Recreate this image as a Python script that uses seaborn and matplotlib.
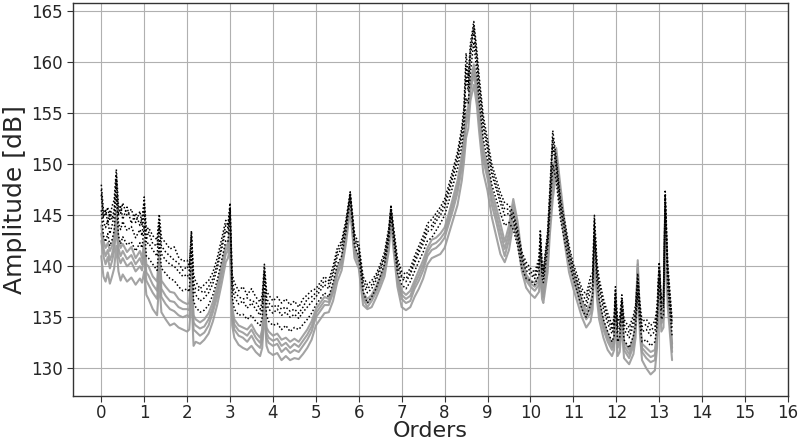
import matplotlib
matplotlib.use("Agg")
import matplotlib.pyplot as plt
import seaborn as sns
import pandas as pd

# ---- data ----
orders = [
    0.0, 0.05, 0.1, 0.15, 0.2, 0.25, 0.3, 0.35, 0.4, 0.45, 0.5, 0.6, 0.7, 0.8, 0.9, 0.95,
    1.0, 1.05, 1.1, 1.2, 1.3, 1.35, 1.4, 1.5, 1.6, 1.7, 1.8, 1.9,
    2.0, 2.05, 2.1, 2.15, 2.2, 2.3, 2.4, 2.5, 2.6, 2.7, 2.8, 2.9, 2.95,
    3.0, 3.05, 3.1, 3.2, 3.3, 3.4, 3.5, 3.6, 3.7, 3.75, 3.8, 3.85, 3.9,
    4.0, 4.1, 4.2, 4.3, 4.4, 4.5, 4.6, 4.7, 4.8, 4.9,
    5.0, 5.1, 5.2, 5.3, 5.4, 5.5, 5.6, 5.7, 5.8, 5.9,
    6.0, 6.1, 6.2, 6.3, 6.4, 6.5, 6.6, 6.7, 6.75, 6.8, 6.9,
    7.0, 7.1, 7.2, 7.3, 7.4, 7.5, 7.6, 7.7, 7.8, 7.9,
    8.0, 8.1, 8.2, 8.3, 8.4, 8.45, 8.5, 8.55, 8.6, 8.68, 8.75, 8.8, 8.9,
    9.0, 9.1, 9.2, 9.3, 9.4, 9.5, 9.6, 9.7, 9.8, 9.9,
    10.0, 10.1, 10.2, 10.23, 10.27, 10.3, 10.4, 10.45, 10.52, 10.6, 10.7, 10.8, 10.9,
    11.0, 11.1, 11.2, 11.3, 11.4, 11.45, 11.49, 11.55, 11.6, 11.7, 11.8, 11.9, 11.95,
    11.98, 12.03, 12.08, 12.13, 12.18, 12.3, 12.4, 12.45, 12.5, 12.55, 12.6, 12.7, 12.8, 12.9, 12.95,
    13.0, 13.05, 13.1, 13.14, 13.2, 13.3,
]

# black dotted runs
run_b1 = [
    148.0, 145.5, 145.0, 145.8, 144.6, 145.9, 146.5, 149.5, 146.0, 145.2, 146.2, 145.0, 145.6, 144.3, 145.4, 144.0,
    146.8, 143.5, 143.8, 143.0, 142.6, 145.1, 142.8, 142.3, 141.7, 141.9, 140.9, 140.5,
    140.6, 140.0, 143.5, 139.2, 138.5, 137.8, 138.2, 138.6, 139.4, 140.8, 142.6, 144.5, 144.0,
    146.2, 139.2, 138.4, 137.6, 138.0, 137.2, 137.8, 137.0, 136.5, 137.2, 140.2, 137.6, 137.2,
    136.6, 137.0, 136.4, 136.8, 136.2, 136.6, 136.0, 136.8, 137.2, 137.6,
    137.8, 138.4, 139.0, 138.6, 140.0, 141.8, 142.5, 144.5, 147.3, 143.2,
    142.2, 139.0, 138.2, 138.6, 139.2, 140.2, 141.4, 143.8, 145.9, 144.2, 140.8,
    139.5, 139.2, 139.8, 141.0, 142.0, 143.0, 144.2, 144.6, 145.2, 145.8,
    146.6, 148.0, 149.6, 151.2, 153.6, 155.6, 160.9, 158.6, 161.8, 164.0, 161.2, 158.8, 154.8,
    152.4, 150.0, 148.6, 147.2, 146.2, 146.0, 145.2, 143.6, 141.4, 140.4,
    139.8, 139.4, 140.8, 143.6, 140.4, 139.6, 143.4, 147.4, 153.3, 150.6, 146.6, 144.4, 142.0,
    140.2, 139.0, 137.8, 137.2, 139.0, 139.4, 145.0, 140.4, 138.8, 136.8, 135.4, 134.2, 135.0,
    138.0, 134.6, 135.0, 137.2, 134.8, 134.0, 135.2, 136.2, 139.3, 136.4, 134.6, 134.8, 134.2, 134.6, 136.0,
    140.4, 136.8, 137.2, 147.5, 140.2, 134.8,
]
run_b2 = [
    147.0, 144.4, 143.8, 144.5, 143.2, 144.0, 145.0, 148.5, 144.2, 143.6, 144.4, 143.5, 143.9, 142.8, 143.6, 143.0,
    145.5, 142.2, 142.3, 141.6, 141.0, 144.0, 141.2, 140.6, 140.2, 140.0, 139.5, 139.0,
    139.2, 138.8, 142.8, 137.8, 137.2, 136.6, 136.9, 137.4, 138.3, 139.8, 141.6, 143.5, 143.2,
    145.5, 138.0, 137.0, 136.3, 136.6, 135.9, 136.4, 135.8, 135.2, 136.0, 139.4, 136.4, 135.8,
    135.4, 135.8, 135.2, 135.5, 135.0, 135.3, 134.9, 135.5, 136.0, 136.5,
    137.0, 137.6, 138.2, 137.8, 139.2, 141.0, 141.8, 144.0, 147.0, 142.6,
    141.6, 138.2, 137.4, 137.8, 138.6, 139.6, 140.8, 143.2, 145.6, 143.6, 140.0,
    138.8, 138.5, 139.2, 140.3, 141.3, 142.2, 143.4, 143.6, 144.4, 145.0,
    145.8, 147.2, 148.8, 150.4, 152.8, 154.6, 158.5, 157.2, 160.5, 163.2, 160.2, 157.6, 153.6,
    151.4, 149.0, 147.6, 146.2, 145.0, 145.2, 144.4, 142.8, 140.6, 139.6,
    139.2, 138.8, 140.0, 142.8, 139.6, 139.0, 142.6, 146.4, 151.8, 149.6, 145.6, 143.4, 141.2,
    139.4, 138.2, 136.8, 136.0, 137.6, 138.2, 144.0, 139.4, 137.8, 135.8, 134.4, 133.4, 134.0,
    137.2, 133.6, 134.0, 136.4, 133.8, 133.0, 134.2, 135.2, 138.4, 135.4, 133.6, 133.8, 133.2, 133.6, 135.0,
    139.6, 135.8, 136.2, 146.6, 139.0, 134.0,
]
run_b3 = [
    145.5, 143.0, 142.4, 143.2, 142.0, 142.6, 143.5, 147.0, 143.0, 142.2, 142.9, 142.1, 142.4, 141.5, 142.3, 141.8,
    144.0, 141.0, 140.8, 140.2, 139.6, 142.5, 139.8, 139.3, 138.8, 138.6, 138.0, 137.6,
    137.8, 137.5, 141.5, 136.6, 136.0, 135.5, 135.7, 136.2, 137.2, 138.6, 140.5, 142.5, 142.4,
    144.8, 137.0, 135.8, 135.2, 135.3, 134.8, 135.2, 134.6, 134.2, 135.0, 138.5, 135.2, 134.6,
    134.2, 134.4, 133.8, 134.2, 133.6, 134.0, 133.8, 134.3, 134.8, 135.4,
    136.2, 136.8, 137.4, 137.0, 138.4, 140.2, 141.0, 143.4, 146.6, 142.0,
    141.0, 137.5, 136.4, 137.0, 137.8, 139.0, 140.2, 142.6, 145.2, 143.0, 139.4,
    138.2, 137.8, 138.5, 139.5, 140.5, 141.4, 142.5, 142.8, 143.5, 144.2,
    145.0, 146.4, 148.0, 149.6, 151.8, 153.5, 156.5, 156.0, 159.0, 162.0, 159.0, 156.4, 152.5,
    150.4, 148.0, 146.6, 145.2, 144.0, 144.3, 143.6, 142.0, 139.8, 138.8,
    138.6, 138.2, 139.2, 142.0, 138.9, 138.4, 141.8, 145.2, 150.0, 148.4, 144.6, 142.4, 140.4,
    138.8, 137.4, 135.8, 135.0, 136.2, 137.2, 143.0, 138.4, 136.8, 134.8, 133.6, 132.6, 133.2,
    136.4, 132.6, 133.0, 135.6, 132.8, 132.0, 133.2, 134.2, 137.4, 134.4, 132.6, 132.8, 132.2, 132.6, 134.2,
    138.8, 134.8, 135.2, 145.6, 137.8, 133.2,
]
run_b4 = [
    147.5, 144.8, 145.6, 144.2, 145.4, 144.6, 145.6, 149.0, 145.0, 146.0, 144.6, 145.8, 144.2, 145.2, 144.0, 144.8,
    146.2, 142.6, 143.4, 142.2, 142.0, 144.6, 142.0, 141.4, 141.0, 140.6, 140.3, 139.6,
    140.0, 139.6, 143.2, 138.4, 137.8, 137.6, 137.4, 138.0, 138.8, 140.2, 142.0, 144.0, 143.8,
    145.8, 138.6, 137.6, 137.0, 136.8, 136.9, 136.6, 136.5, 135.8, 136.5, 139.8, 137.0, 136.4,
    136.0, 136.2, 135.8, 136.0, 135.6, 135.8, 135.4, 136.0, 136.8, 137.0,
    137.4, 138.0, 138.6, 138.3, 139.6, 141.4, 142.2, 144.2, 147.2, 142.8,
    141.8, 138.6, 137.8, 138.2, 138.9, 139.9, 141.0, 143.5, 145.8, 143.9, 140.4,
    139.0, 138.8, 139.4, 140.6, 141.6, 142.6, 143.8, 144.0, 144.8, 145.4,
    146.2, 147.6, 149.2, 150.8, 153.2, 155.0, 159.6, 157.8, 161.2, 163.6, 160.6, 158.2, 154.2,
    151.8, 149.5, 148.0, 146.6, 145.6, 145.6, 144.8, 143.2, 141.0, 140.0,
    139.5, 139.0, 140.4, 143.2, 140.0, 139.3, 143.0, 146.8, 152.6, 150.2, 146.0, 143.8, 141.6,
    139.8, 138.6, 137.3, 136.6, 138.3, 138.8, 144.5, 139.9, 138.3, 136.3, 134.9, 133.8, 134.5,
    137.6, 134.1, 134.5, 136.8, 134.3, 133.5, 134.7, 135.7, 138.9, 135.9, 134.1, 134.3, 133.7, 134.1, 135.5,
    140.0, 136.3, 136.7, 147.0, 139.6, 134.4,
]

# grey solid runs
run_g1 = [
    144.0, 142.5, 141.8, 142.3, 141.5, 142.0, 143.0, 145.5, 142.6, 141.8, 142.2, 141.4, 141.9, 140.8, 141.5, 140.8,
    142.5, 140.2, 140.0, 139.0, 138.5, 141.5, 138.6, 138.0, 137.5, 137.4, 136.8, 136.5,
    136.3, 136.4, 140.0, 135.2, 134.8, 134.5, 134.8, 135.4, 136.5, 138.0, 140.0, 142.0, 142.2,
    143.5, 136.0, 134.8, 134.2, 134.0, 133.8, 134.3, 133.5, 133.0, 133.8, 137.5, 134.0, 133.6,
    133.2, 133.4, 132.8, 133.0, 132.6, 132.9, 132.6, 133.2, 133.8, 134.6,
    135.8, 136.4, 137.0, 136.8, 138.0, 139.8, 140.8, 143.2, 146.4, 141.8,
    140.8, 137.4, 136.8, 137.2, 138.0, 139.0, 140.0, 142.6, 145.4, 143.2, 139.2,
    137.6, 137.2, 137.6, 138.6, 139.6, 140.6, 141.8, 142.6, 142.8, 143.2,
    143.8, 145.2, 146.8, 148.4, 150.8, 152.6, 155.0, 155.6, 158.0, 159.8, 158.2, 155.8, 151.6,
    149.8, 147.4, 145.8, 144.2, 142.4, 144.0, 146.6, 144.4, 141.0, 139.2,
    138.6, 138.4, 139.0, 141.2, 138.2, 137.6, 141.0, 145.0, 149.0, 151.6, 147.8, 144.2, 141.0,
    139.4, 138.0, 136.6, 135.6, 136.4, 137.4, 142.4, 138.6, 136.6, 134.6, 133.4, 132.4, 133.0,
    137.0, 132.8, 133.2, 135.8, 132.6, 131.8, 133.0, 134.6, 140.6, 135.0, 132.4, 132.0, 131.6, 131.8, 133.6,
    140.0, 135.2, 135.6, 145.8, 138.0, 132.4,
]
run_g2 = [
    142.5, 141.0, 140.2, 140.9, 139.8, 140.5, 141.5, 144.0, 141.0, 140.3, 140.8, 140.0, 140.4, 139.5, 140.0, 139.6,
    141.0, 138.6, 138.2, 137.4, 136.8, 140.0, 137.0, 136.3, 135.8, 135.6, 135.2, 135.0,
    135.2, 135.0, 139.0, 133.8, 133.6, 133.2, 133.5, 134.2, 135.5, 137.0, 139.0, 141.2, 141.5,
    142.8, 135.0, 133.8, 133.2, 133.0, 132.6, 133.2, 132.4, 132.0, 132.8, 136.5, 133.0, 132.5,
    132.2, 132.4, 131.6, 132.0, 131.5, 131.8, 131.6, 132.2, 132.8, 133.6,
    135.0, 135.6, 136.2, 136.2, 137.4, 139.2, 140.2, 142.8, 146.0, 141.3,
    140.3, 136.8, 136.0, 136.6, 137.4, 138.4, 139.5, 142.0, 145.0, 142.6, 138.6,
    136.8, 136.4, 136.6, 137.8, 138.6, 139.6, 141.0, 141.6, 141.8, 142.2,
    142.8, 144.2, 145.6, 147.2, 149.6, 151.4, 153.8, 154.6, 157.2, 158.8, 157.0, 154.6, 150.4,
    148.6, 146.0, 144.4, 142.6, 141.0, 142.6, 145.4, 143.4, 140.2, 138.6,
    138.0, 137.6, 138.2, 140.4, 137.5, 137.0, 140.2, 144.0, 147.8, 150.4, 146.6, 143.2, 140.2,
    138.6, 137.2, 135.8, 134.8, 135.4, 136.6, 141.6, 137.6, 135.6, 133.8, 132.6, 131.8, 132.4,
    136.2, 132.0, 132.4, 135.0, 131.8, 131.0, 132.2, 133.8, 139.8, 134.2, 131.6, 131.0, 130.6, 130.8, 132.8,
    139.2, 134.4, 134.8, 144.8, 137.0, 131.6,
]
run_g3 = [
    141.0, 139.0, 138.5, 139.4, 138.3, 139.0, 139.8, 142.0, 139.5, 138.6, 139.2, 138.5, 138.9, 138.2, 138.8, 138.4,
    139.5, 137.2, 136.8, 135.8, 135.2, 138.5, 135.5, 134.8, 134.2, 134.4, 134.0, 133.8,
    133.6, 133.8, 137.0, 132.2, 132.6, 132.4, 132.8, 133.4, 134.6, 136.2, 138.2, 140.4, 140.8,
    141.8, 134.2, 133.0, 132.3, 132.0, 131.8, 132.2, 131.6, 131.2, 132.0, 135.5, 132.2, 131.6,
    131.3, 131.5, 130.8, 131.2, 130.8, 131.0, 130.9, 131.4, 132.0, 132.8,
    134.2, 134.8, 135.4, 135.5, 136.6, 138.5, 139.6, 142.2, 145.6, 140.8,
    139.8, 136.2, 135.8, 136.0, 136.9, 137.9, 139.0, 141.5, 144.6, 142.0, 138.0,
    136.0, 135.7, 136.0, 137.0, 137.8, 138.8, 140.2, 140.8, 141.0, 141.2,
    141.8, 143.2, 144.6, 146.0, 148.4, 150.2, 152.6, 153.5, 156.2, 157.8, 155.8, 153.4, 149.2,
    147.4, 144.8, 143.0, 141.2, 140.4, 141.6, 144.2, 142.4, 139.5, 137.9,
    137.3, 136.9, 137.5, 139.6, 136.8, 136.4, 139.4, 143.0, 146.6, 149.2, 145.4, 142.2, 139.4,
    137.8, 136.4, 135.0, 134.0, 134.6, 135.8, 140.8, 136.8, 134.8, 133.0, 131.8, 131.2, 131.8,
    135.4, 131.2, 131.6, 134.2, 131.0, 130.4, 131.4, 133.0, 139.0, 133.4, 130.8, 130.0, 129.4, 129.8, 132.0,
    138.4, 133.6, 134.0, 143.6, 136.0, 130.8,
]
run_g4 = [
    143.2, 141.8, 141.0, 141.6, 140.6, 141.2, 142.2, 144.8, 141.8, 141.0, 141.5, 140.7, 141.1, 140.2, 140.8, 140.2,
    141.8, 139.4, 139.1, 138.2, 137.6, 140.8, 137.8, 137.1, 136.6, 136.5, 136.0, 135.8,
    135.8, 135.7, 139.5, 134.5, 134.2, 133.9, 134.1, 134.8, 136.0, 137.5, 139.5, 141.6, 141.9,
    143.2, 135.5, 134.3, 133.7, 133.5, 133.2, 133.8, 133.0, 132.5, 133.3, 137.0, 133.5, 133.0,
    132.7, 132.9, 132.2, 132.5, 132.0, 132.4, 132.1, 132.7, 133.3, 134.1,
    135.4, 136.0, 136.6, 136.5, 137.7, 139.5, 140.5, 143.0, 146.2, 141.6,
    140.6, 137.1, 136.4, 136.9, 137.7, 138.7, 139.8, 142.3, 145.2, 142.9, 138.9,
    137.2, 136.8, 137.1, 138.2, 139.1, 140.1, 141.4, 142.1, 142.3, 142.7,
    143.3, 144.7, 146.2, 147.8, 150.2, 152.0, 154.4, 155.1, 157.6, 159.3, 157.6, 155.2, 151.0,
    149.2, 146.7, 145.1, 143.4, 141.7, 143.3, 146.0, 143.9, 140.6, 138.9,
    138.3, 138.0, 138.6, 140.8, 137.9, 137.3, 140.6, 144.5, 148.4, 151.0, 147.2, 143.7, 140.6,
    139.0, 137.6, 136.2, 135.2, 135.9, 137.0, 142.0, 138.1, 136.1, 134.2, 133.0, 132.1, 132.7,
    136.6, 132.4, 132.8, 135.4, 132.2, 131.4, 132.6, 134.2, 140.2, 134.6, 132.0, 131.5, 131.1, 131.3, 133.2,
    139.6, 134.8, 135.2, 145.3, 137.5, 132.0,
]

grey_runs = [run_g1, run_g4, run_g2, run_g3]
black_runs = [run_b1, run_b4, run_b2, run_b3]
x_ticks = list(range(0, 17))
y_ticks = [130, 135, 140, 145, 150, 155, 160, 165]

# ---- figure ----
sns.set_style("ticks")
plt.rcParams["font.family"] = ["DejaVu Sans"]

fig = plt.figure(figsize=(8.01, 4.44), dpi=100)
ax = fig.add_axes([0.0911, 0.108, 0.8926, 0.8845])

for run in grey_runs:
    df = pd.DataFrame({"Orders": orders, "Amplitude": run})
    sns.lineplot(data=df, x="Orders", y="Amplitude", ax=ax, color="#999999",
                 linewidth=1.5, alpha=0.9, estimator=None, sort=False)
for run in black_runs:
    df = pd.DataFrame({"Orders": orders, "Amplitude": run})
    sns.lineplot(data=df, x="Orders", y="Amplitude", ax=ax, color="black",
                 linewidth=1.1, linestyle=(0, (1, 1.4)), estimator=None, sort=False)

ax.set_xlim(-0.66, 16.0)
ax.set_ylim(127.28, 165.78)
ax.set_xticks(x_ticks)
ax.set_yticks(y_ticks)
ax.grid(True, color="#b0b0b0", linewidth=0.8)
ax.set_axisbelow(True)
ax.tick_params(labelsize=12, length=4, color="#333333")
ax.tick_params(axis="x", pad=2)
for s in ax.spines.values():
    s.set_color("#333333")
    s.set_linewidth(1.0)
ax.set_xlabel("Orders", fontsize=16, labelpad=-1)
ax.set_ylabel("Amplitude [dB]", fontsize=18, labelpad=3)

fig.savefig("out.png", dpi=100)
